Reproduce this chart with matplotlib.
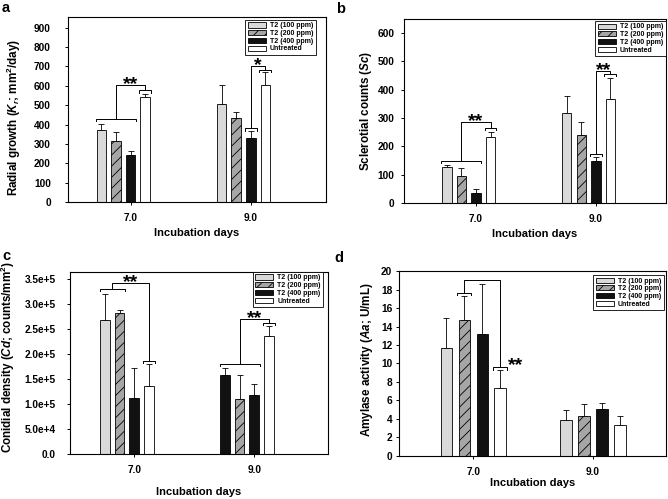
import numpy as np
import matplotlib
matplotlib.use("Agg")
import matplotlib.pyplot as plt
from matplotlib.patches import Patch
from matplotlib.container import BarContainer
from matplotlib.ticker import FuncFormatter, MultipleLocator

plt.rcParams["font.family"] = ["Liberation Sans", "DejaVu Sans"]
plt.rcParams["font.weight"] = "bold"
plt.rcParams["mathtext.fontset"] = "custom"
plt.rcParams["mathtext.rm"] = "Liberation Sans:bold"
plt.rcParams["mathtext.it"] = "Liberation Sans:italic:bold"
plt.rcParams["mathtext.bf"] = "Liberation Sans:bold"
plt.rcParams["hatch.linewidth"] = 0.6
plt.rcParams["axes.linewidth"] = 0.8

days = [7.0, 9.0]
treatments = ["T2 (100 ppm)", "T2 (200 ppm)", "T2 (400 ppm)", "Untreated"]

# rows = treatments, cols = days
radial_mean = [[373, 507], [316, 436], [244, 330], [540, 603]]
radial_err = [[32, 96], [47, 28], [18, 35], [17, 66]]
sclerotia_mean = [[129, 316], [95, 241], [37, 149], [232, 366]]
sclerotia_err = [[7, 61], [30, 46], [15, 15], [20, 76]]
conidia_mean = [[2.69e5, 1.59e5], [2.82e5, 1.095e5], [1.13e5, 1.19e5], [1.36e5, 2.36e5]]
conidia_err = [[0.52e5, 0.14e5], [0.07e5, 0.48e5], [0.60e5, 0.205e5], [0.45e5, 0.20e5]]
amylase_mean = [[11.65, 3.9], [14.7, 4.34], [13.16, 5.03], [7.3, 3.33]]
amylase_err = [[3.25, 1.05], [2.65, 1.23], [5.4, 0.72], [1.95, 1.0]]

# significance brackets: (day index, first bar, last bar, y left, y top, y right, stars)
radial_sig = [(0, 0, 2, 429, 604, 576, "**"), (1, 2, 2, 380, 703, 681, "*")]
sclerotia_sig = [(0, 0, 2, 149, 285, 266, "**"), (1, 2, 2, 173, 466, 454, "**")]
conidia_sig = [(0, 0, 1, 3.30e5, 3.43e5, 1.87e5, "**"), (1, 0, 2, 1.80e5, 2.70e5, 2.62e5, "**")]
amylase_sig = [(0, 1, 1, 17.65, 19.0, 9.58, "**")]

faces = ["#d9d9d9", "#a6a6a6", "#111111", "white"]
hatches = [None, "///", None, None]


def sci(v, pos):
    if v < 1:
        return "0.0" if v > -1 else ""
    e = int(np.floor(np.log10(v) + 1e-9))
    return f"{v / 10**e:.1f}e+{e}"


def panel(rect, mean, err, sig, offs, width, ylim, ystep, xlim, ylabel, ylab_xy,
          xlab_y, leg_xy, ypad, stars_right=False):
    ax = fig.add_axes(rect)
    for i in range(4):
        x = [d + offs[i] for d in days]
        ax.bar(x, mean[i], width, color=faces[i], hatch=hatches[i], edgecolor="black",
               linewidth=0.6, zorder=2,
               yerr=[np.zeros(2), err[i]],
               error_kw=dict(ecolor="black", elinewidth=0.6, capsize=2.2, capthick=0.6, zorder=1))
    drop = 0.012 * ylim[1]
    for di, b0, b1, yl, yt, yr, st in sig:
        d = days[di]
        if b0 == b1:
            lx0, lx1 = d + offs[b0] - width / 2 - 0.02, d + offs[b1] + width / 2 + 0.02
        else:
            lx0, lx1 = d + offs[b0] - width / 2 - 0.01, d + offs[b1] + width / 2 + 0.01
        rx0, rx1 = d + offs[3] - width / 2 - 0.02, d + offs[3] + width / 2 + 0.02
        lc, rc = (lx0 + lx1) / 2, (rx0 + rx1) / 2
        kw = dict(color="black", lw=0.7, zorder=3)
        ax.plot([lx0, lx0, lx1, lx1], [yl - drop, yl, yl, yl - drop], **kw)
        ax.plot([rx0, rx0, rx1, rx1], [yr - drop, yr, yr, yr - drop], **kw)
        ax.plot([lc, lc, rc, rc], [yl, yt, yt, yr], **kw)
        if stars_right:
            ax.annotate(st, xy=(rx1, yr), xytext=(1, -2), textcoords="offset points",
                        ha="left", va="baseline", fontsize=14)
        else:
            ax.annotate(st, xy=((lc + rc) / 2, yt), xytext=(0, -3), textcoords="offset points",
                        ha="center", va="baseline", fontsize=14)
    ax.set_xlim(*xlim)
    ax.set_ylim(*ylim)
    ax.set_xticks(days)
    ax.set_xticklabels(["7.0", "9.0"])
    ax.yaxis.set_major_locator(MultipleLocator(ystep))
    ax.tick_params(direction="out", length=2.3, width=0.7, labelsize=7.3)
    ax.tick_params(axis="x", pad=5.5)
    ax.tick_params(axis="y", pad=ypad)
    ax.set_ylabel(ylabel, fontsize=8.4, fontweight="bold")
    ax.yaxis.set_label_coords(*ylab_xy)
    ax.yaxis.label.set_va("center")
    ax.set_xlabel("Incubation days", fontsize=8, fontweight="bold")
    ax.xaxis.set_label_coords(0.5, xlab_y)
    ax.xaxis.label.set_va("center")
    handles = [Patch(facecolor=faces[i], hatch=hatches[i], edgecolor="black", linewidth=0.6)
               for i in range(4)]
    leg = ax.legend(handles, treatments, loc="upper right", bbox_to_anchor=leg_xy,
                    fontsize=5.0, fancybox=False, edgecolor="black", framealpha=1,
                    handlelength=2.6, handleheight=0.75, labelspacing=0.1, borderpad=0.35,
                    handletextpad=0.6, borderaxespad=0)
    leg.get_frame().set_linewidth(0.6)
    return ax


fig = plt.figure(figsize=(6.68, 4.99), dpi=100)

off_a = [-0.486, -0.243, 0.0, 0.243]
off_d = [-0.45, -0.15, 0.15, 0.45]

panel([0.1018, 0.5952, 0.3862, 0.3707], radial_mean, radial_err, radial_sig, off_a, 0.158,
      (0, 955), 100, (5.96, 10.25), r"Radial growth ($K_r$; mm$^2$/day)", (-0.209, 0.46),
      -0.168, (0.961, 0.984), 10)
panel([0.6048, 0.5926, 0.3922, 0.3693], sclerotia_mean, sclerotia_err, sclerotia_sig, off_a, 0.158,
      (0, 648), 100, (5.8, 10.17), r"Sclerotial counts ($Sc$)", (-0.145, 0.5),
      -0.168, (1.0, 0.989), 4.5)
axc = panel([0.1048, 0.0902, 0.3862, 0.3647], conidia_mean, conidia_err, conidia_sig, off_a, 0.16,
            (0, 3.646e5), 0.5e5, (5.93, 10.23), r"Conidial density ($Cd$; counts/mm$^2$)",
            (-0.24, 0.53), -0.21, (0.981, 1.0), 8)
axc.yaxis.set_major_formatter(FuncFormatter(sci))
# in the original, the 100 ppm bar on day 9 is drawn black
bars_c = [c for c in axc.containers if isinstance(c, BarContainer)]
bars_c[0].patches[1].set_facecolor(faces[2])
panel([0.5973, 0.0862, 0.3997, 0.3707], amylase_mean, amylase_err, amylase_sig, off_d, 0.19,
      (0, 20), 2, (5.76, 10.22), r"Amylase activity ($Aa$; U/mL)", (-0.12, 0.52),
      -0.147, (0.9925, 0.978), 2.5, stars_right=True)

for x, y, s in [(0.003, 0.975, "a"), (0.503, 0.974, "b"), (0.003, 0.479, "c"), (0.5, 0.4756, "d")]:
    fig.text(x, y, s, fontsize=10.5, fontweight="bold", va="baseline")

fig.savefig("out.png", dpi=100)
